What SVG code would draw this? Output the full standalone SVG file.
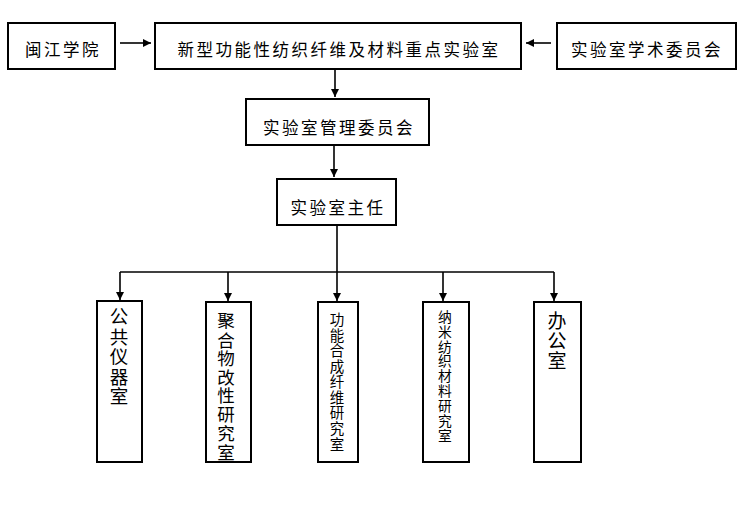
<svg xmlns="http://www.w3.org/2000/svg" width="744" height="517" viewBox="0 0 744 517">
<style>
.box{fill:#fff;stroke:#000;stroke-width:2}
.t{font-family:"Noto Sans CJK SC","Noto Sans",sans-serif;fill:#000;text-anchor:middle}
.h{font-size:16.5px;letter-spacing:2.5px}
.v{font-family:"Noto Sans CJK SC","Noto Sans",sans-serif;fill:#000;writing-mode:vertical-rl;text-anchor:start}
.ln{stroke:#000;stroke-width:1.6;fill:none}
</style>
<defs>
<marker id="ar" viewBox="0 0 10 10" refX="10" refY="5" markerWidth="5" markerHeight="5" orient="auto" markerUnits="strokeWidth">
<path d="M0,0 L10,5 L0,10 z" fill="#000"/>
</marker>
</defs>
<rect width="744" height="517" fill="#fff"/>
<g id="connectors">
<line class="ln" x1="120" y1="43" x2="151" y2="43" marker-end="url(#ar)"/>
<line class="ln" x1="551" y1="43" x2="526" y2="43" marker-end="url(#ar)"/>
<line class="ln" x1="335" y1="70" x2="335" y2="97" marker-end="url(#ar)"/>
<line class="ln" x1="334" y1="146" x2="334" y2="177" marker-end="url(#ar)"/>
<line class="ln" x1="337" y1="226" x2="337" y2="272"/>
<line class="ln" x1="120" y1="272" x2="554" y2="272"/>
<line class="ln" x1="120" y1="272" x2="120" y2="300" marker-end="url(#ar)"/>
<line class="ln" x1="228" y1="272" x2="228" y2="301" marker-end="url(#ar)"/>
<line class="ln" x1="337" y1="272" x2="337" y2="301" marker-end="url(#ar)"/>
<line class="ln" x1="443" y1="272" x2="443" y2="301" marker-end="url(#ar)"/>
<line class="ln" x1="554" y1="272" x2="554" y2="301" marker-end="url(#ar)"/>
</g>
<g id="minjiang">
<rect class="box" x="8" y="23" width="107" height="46"/>
<text class="t h" x="63" y="56">闽江学院</text>
</g>
<g id="lab">
<rect class="box" x="155" y="23" width="366" height="46"/>
<text class="t h" x="339" y="56">新型功能性纺织纤维及材料重点实验室</text>
</g>
<g id="academic">
<rect class="box" x="557" y="23" width="179" height="46"/>
<text class="t h" x="647" y="56">实验室学术委员会</text>
</g>
<g id="mgmt">
<rect class="box" x="246" y="99" width="183" height="46"/>
<text class="t h" x="339" y="134">实验室管理委员会</text>
</g>
<g id="director">
<rect class="box" x="277" y="179" width="119" height="46"/>
<text class="t h" x="338" y="214">实验室主任</text>
</g>
<g id="instr">
<rect class="box" x="97" y="301" width="45" height="161"/>
<text class="v" font-size="18.5"><tspan x="119" y="307">公</tspan><tspan x="119" y="327">共</tspan><tspan x="119" y="347">仪</tspan><tspan x="119" y="367">器</tspan><tspan x="119" y="387">室</tspan></text>
</g>
<g id="polymer">
<rect class="box" x="206" y="302" width="45" height="160"/>
<text class="v" font-size="17.5"><tspan x="226" y="312">聚</tspan><tspan x="226" y="330.7">合</tspan><tspan x="226" y="349.4">物</tspan><tspan x="226" y="368.1">改</tspan><tspan x="226" y="386.8">性</tspan><tspan x="226" y="405.5">研</tspan><tspan x="226" y="424.2">究</tspan><tspan x="226" y="442.9">室</tspan></text>
</g>
<g id="synth">
<rect class="box" x="318" y="302" width="40" height="160"/>
<text class="v" font-size="14.5"><tspan x="337" y="312">功</tspan><tspan x="337" y="327.6">能</tspan><tspan x="337" y="343.2">合</tspan><tspan x="337" y="358.8">成</tspan><tspan x="337" y="374.4">纤</tspan><tspan x="337" y="390">维</tspan><tspan x="337" y="405.6">研</tspan><tspan x="337" y="421.2">究</tspan><tspan x="337" y="436.8">室</tspan></text>
</g>
<g id="nano">
<rect class="box" x="423" y="302" width="46" height="160"/>
<text class="v" font-size="13.8"><tspan x="445" y="310">纳</tspan><tspan x="445" y="324.8">米</tspan><tspan x="445" y="339.6">纺</tspan><tspan x="445" y="354.4">织</tspan><tspan x="445" y="369.2">材</tspan><tspan x="445" y="384">料</tspan><tspan x="445" y="398.8">研</tspan><tspan x="445" y="413.6">究</tspan><tspan x="445" y="428.4">室</tspan></text>
</g>
<g id="office">
<rect class="box" x="534" y="302" width="47" height="160"/>
<text class="v" font-size="19"><tspan x="557" y="311">办</tspan><tspan x="557" y="331">公</tspan><tspan x="557" y="351">室</tspan></text>
</g>
</svg>
